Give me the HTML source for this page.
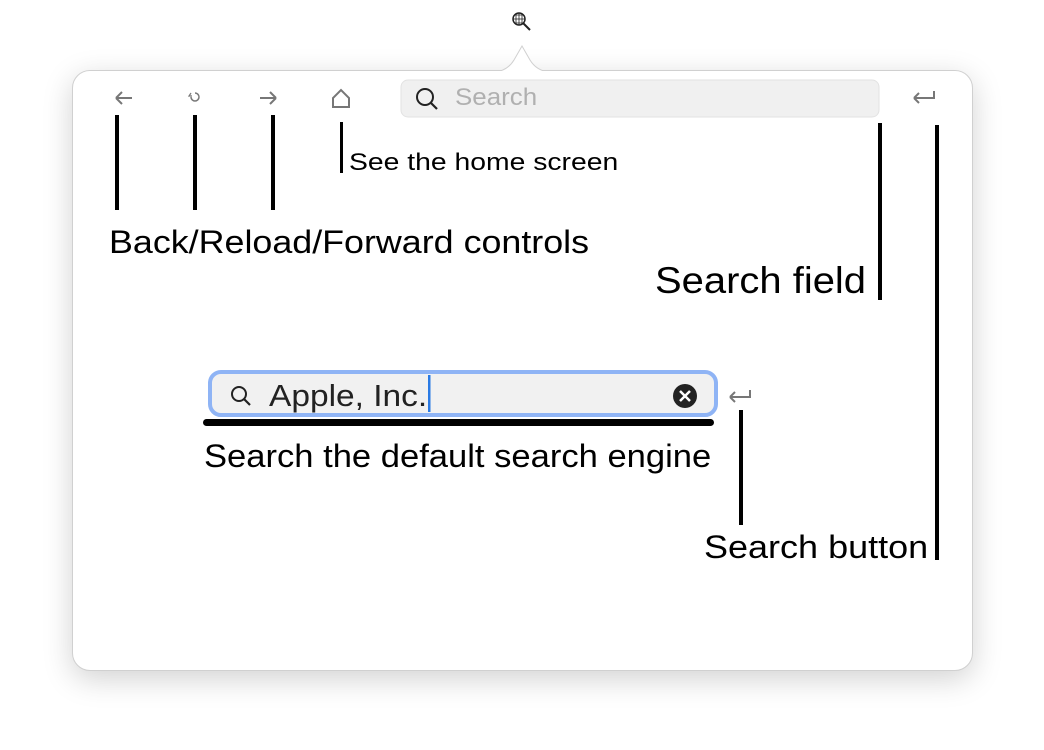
<!DOCTYPE html>
<html><head><style>
body{margin:0;width:1044px;height:750px;background:#fff;position:relative;overflow:hidden;font-family:"Liberation Sans",sans-serif;}
.pop{position:absolute;left:72px;top:70px;width:899px;height:599px;border:1px solid #d0d0d0;border-radius:18px;background:#fff;box-shadow:0 8px 30px rgba(0,0,0,0.18);}
.v{position:absolute;background:#000;width:4px;}
.t{position:absolute;color:#000;white-space:nowrap;line-height:1;transform-origin:0 50%;}
</style></head><body>
<div class="pop"></div>
<svg style="position:absolute;left:0;top:0" width="1044" height="750">
<path d="M496 72 Q508 70 514 60 L522 46 L530 60 Q536 70 548 72 Z" fill="#fff" stroke="#d0d0d0" stroke-width="1"/>
<rect x="495" y="71" width="54" height="3" fill="#fff"/>
<circle cx="519" cy="19" r="6" fill="none" stroke="#222" stroke-width="1.5"/>
<path d="M513 19h12M519 13v12M515 15h8M515 23h8M516 14v10M522 14v10" stroke="#222" stroke-width="0.8"/>
<path d="M523 23l7 7" stroke="#222" stroke-width="2"/>
<rect x="401" y="80" width="478" height="37" rx="7" fill="#f0f0f0" stroke="#e2e2e2"/>
<circle cx="425" cy="97" r="8" fill="none" stroke="#222" stroke-width="2"/>
<path d="M431 103l6 6" stroke="#222" stroke-width="2.2"/>
<path d="M116 98h16M116 98l6-6M116 98l6 6" stroke="#777" stroke-width="2" fill="none"/>
<path d="M260 98h16M276 98l-6-6M276 98l-6 6" stroke="#777" stroke-width="2" fill="none"/>
<path d="M333 107v-9l8-8 8 8v9z" stroke="#777" stroke-width="2" fill="none"/>
<path d="M191 97a4 4 0 1 0 4-4" stroke="#777" stroke-width="1.5" fill="none"/>
<path d="M191 93l-2 3 3 0" stroke="#777" stroke-width="1.2" fill="none"/>
<path d="M934 91v7h-20M914 98l5-5M914 98l5 5" stroke="#777" stroke-width="2" fill="none"/>
<path d="M750 390v7h-20M730 397l5-5M730 397l5 5" stroke="#777" stroke-width="2" fill="none"/>
<rect x="210" y="372" width="506" height="43" rx="11" fill="#f1f1f1" stroke="#8fb4f5" stroke-width="4"/>
<circle cx="239" cy="394" r="7" fill="none" stroke="#222" stroke-width="2"/>
<path d="M244 399l6 6" stroke="#222" stroke-width="2.2"/>
<rect x="428" y="375" width="2.5" height="37" fill="#2a7ae4"/>
<circle cx="685" cy="396" r="12" fill="#222"/>
<path d="M680 391l10 10M690 391l-10 10" stroke="#fff" stroke-width="2.5"/>
<rect x="203" y="419" width="511" height="7" rx="3.5" fill="#000"/>
</svg>
<div class="t" style="left:269px;top:380px;font-size:31px;color:#222;transform:scaleX(1.08)">Apple, Inc.</div>
<div class="t" style="left:455px;top:86px;font-size:24px;color:#b0b0b0;transform:scaleX(1.08)">Search</div>
<div class="v" style="left:115px;top:115px;height:95px"></div>
<div class="v" style="left:193px;top:115px;height:95px"></div>
<div class="v" style="left:271px;top:115px;height:95px"></div>
<div class="v" style="left:340px;top:122px;height:51px;width:3px"></div>
<div class="v" style="left:878px;top:123px;height:177px"></div>
<div class="v" style="left:935px;top:125px;height:435px"></div>
<div class="v" style="left:739px;top:410px;height:115px"></div>
<div class="t" style="left:349px;top:151px;font-size:24px;transform:scaleX(1.18)">See the home screen</div>
<div class="t" style="left:109px;top:226px;font-size:32px;transform:scaleX(1.12)">Back/Reload/Forward controls</div>
<div class="t" style="left:655px;top:262px;font-size:37px;transform:scaleX(1.08)">Search field</div>
<div class="t" style="left:204px;top:440px;font-size:32px;transform:scaleX(1.08)">Search the default search engine</div>
<div class="t" style="left:704px;top:531px;font-size:32px;transform:scaleX(1.125)">Search button</div>
</body></html>
